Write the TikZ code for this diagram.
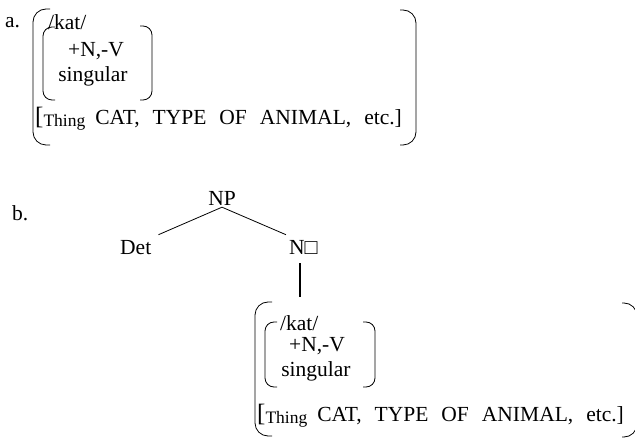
\documentclass[tikz,border=0pt]{standalone}
\usepackage{fontspec}
\setmainfont{Liberation Serif}
\begin{document}
\begin{tikzpicture}[x=1pt,y=-1pt,
  txt/.style={inner sep=0pt, font=\fontsize{21.5}{25}\selectfont},
  outerparen/.style={line width=0.8pt, rounded corners=13pt},
  innerparen/.style={line width=0.8pt, rounded corners=9pt},
  branch/.style={line width=0.8pt},
  vline/.style={line width=1.6pt}]
\useasboundingbox (0,0) rectangle (635,438);
\newcommand{\thingline}{{\fontsize{25}{29}\selectfont[}\raisebox{-2pt}{\fontsize{17.5}{20}\selectfont Thing}\hspace{10pt}CAT,\hspace{13pt}TYPE\hspace{13pt}OF\hspace{13pt}ANIMAL,\hspace{13pt}etc.]}

% ---------- a ----------
\node[txt, anchor=base west] (la) at (5,28) {a.};
\draw[outerparen] (50,9) -- (33,9) -- (33,145) -- (50,145);
\draw[outerparen] (400,10) -- (416,10) -- (416,145) -- (400,145);
\draw[innerparen] (55,27) -- (43,27) -- (43,100) -- (55,100);
\draw[innerparen] (140,26) -- (152,26) -- (152,100) -- (140,100);
\node[txt, anchor=base west] (katA) at (48,30) {/kat/};
\node[txt, anchor=base] (nvA) at (96,57) {+N,-V};
\node[txt, anchor=base] (sgA) at (93,82) {singular};
\node[txt, anchor=base west] (catA) at (35,125) {\thingline};

% ---------- b ----------
\node[txt, anchor=base west] (lb) at (12,221) {b.};
\node[txt, anchor=base] (np) at (222,206) {NP};
\node[txt, anchor=base west] (det) at (120,255) {Det};
\node[txt, anchor=base west] (nbar) at (289,255) {N□};
\coordinate (btop) at (300,297);
\draw[branch] ([yshift=-1pt]np.south) -- ([xshift=7pt,yshift=6pt]det.north east);
\draw[branch] ([yshift=-1pt]np.south) -- ([xshift=-3pt,yshift=6pt]nbar.north west);
\draw[vline, shorten <=8pt] (nbar.south -| btop) -- (btop);

\draw[outerparen] (272,302) -- (255,302) -- (255,436) -- (272,436);
\draw[outerparen] (622,303) -- (637,303) -- (637,437) -- (622,437);
\draw[innerparen] (277,322) -- (265,322) -- (265,387) -- (277,387);
\draw[innerparen] (363,322) -- (375,322) -- (375,387) -- (363,387);
\node[txt, anchor=base west] (katB) at (280,331) {/kat/};
\node[txt, anchor=base] (nvB) at (317,352) {+N,-V};
\node[txt, anchor=base] (sgB) at (316,377) {singular};
\node[txt, anchor=base west] (catB) at (257,421) {\thingline};
\end{tikzpicture}
\end{document}
